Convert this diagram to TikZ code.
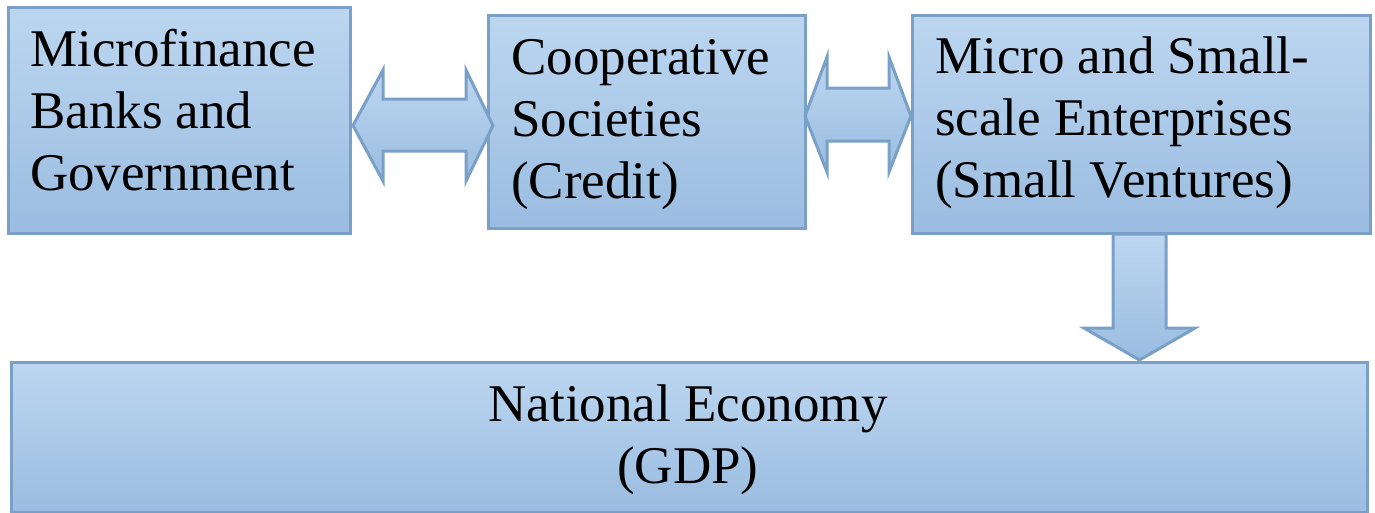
\documentclass[tikz,border=0pt]{standalone}
\usepackage{fontspec}
\newfontfamily\serifface{Liberation Serif}
\definecolor{boxtop}{RGB}{188,214,240}
\definecolor{boxbot}{RGB}{155,189,225}
\definecolor{boxline}{RGB}{122,160,200}
\tikzset{
  blk/.style={rectangle, draw=boxline, line width=3pt, inner sep=0pt,
    outer sep=0pt, anchor=north west},
  blkline/.style={draw=boxline, line width=3pt, line join=miter},
  lbl/.style={font=\fontsize{53}{62}\selectfont\serifface, inner sep=0pt},
}
% vertical gradient fill of a closed path: #1 path, #2 top y, #3 bottom y
\newcommand\vgradfill[3]{%
  \begin{scope}
    \clip #1;
    \foreach \k in {0,...,47}{%
      \pgfmathsetmacro\pc{\k*100/47}%
      \fill[boxbot!\pc!boxtop] (0,{#2+(#3-#2)*\k/48})
        rectangle (1375,{#2+(#3-#2)*(\k+1)/48+0.6});
    }
  \end{scope}}
% stacked lines of a label, left or centre aligned
\newcommand\linesL[1]{\serifface\begin{tabular}[b]{@{}l@{}}#1\end{tabular}}
\newcommand\linesC[1]{\serifface\begin{tabular}[b]{@{}c@{}}#1\end{tabular}}
\begin{document}
\begin{tikzpicture}[x=1pt,y=-1pt]
\useasboundingbox (0,0) rectangle (1375,512);

% box fills
\vgradfill{(8,7.5) rectangle (350,233.5)}{7.5}{233.5}
\vgradfill{(488,15) rectangle (805,228)}{15}{228}
\vgradfill{(912,15) rectangle (1370,233)}{15}{233}
\vgradfill{(11,362) rectangle (1367,512)}{362}{512}

% boxes
\node[blk, minimum width=342pt, minimum height=226pt] (b1) at (8,7.5) {};
\node[blk, minimum width=317pt, minimum height=213pt] (b2) at (488,15) {};
\node[blk, minimum width=458pt, minimum height=218pt] (b3) at (912,15) {};
\node[blk, minimum width=1356pt, minimum height=150pt] (b4) at (11,362) {};

% labels (anchored at the baseline of their last line)
\node[lbl, anchor=base west] (t1) at (30,190)
  {\linesL{Microfinance\\Banks and\\Government}};
\node[lbl, anchor=base west] (t2) at (511,198)
  {\linesL{Cooperative\\Societies\\(Credit)}};
\node[lbl, anchor=base west] (t3) at (935,197)
  {\linesL{Micro and Small-\\scale Enterprises\\(Small Ventures)}};
\node[lbl, anchor=base] (t4) at (688,483)
  {\linesC{National Economy\\(GDP)}};

% block arrows between the boxes
\def\arrowA{(353,125.5) -- (383,70) -- (383,99) -- (466,99) -- (466,70)
  -- (493,125.5) -- (466,181) -- (466,151) -- (383,151) -- (383,181) -- cycle}
\def\arrowB{(805,116) -- (827,57) -- (827,88) -- (889,88) -- (889,57)
  -- (911,116) -- (889,172) -- (889,141) -- (827,141) -- (827,172) -- cycle}
\def\arrowC{(1113,234) -- (1166,234) -- (1166,328) -- (1195,328)
  -- (1139.5,360) -- (1084,328) -- (1113,328) -- cycle}
\vgradfill{\arrowA}{70}{181}
\vgradfill{\arrowB}{57}{172}
\vgradfill{\arrowC}{234}{360}
\path[blkline] \arrowA;
\path[blkline] \arrowB;
\path[blkline] \arrowC;
\end{tikzpicture}
\end{document}
